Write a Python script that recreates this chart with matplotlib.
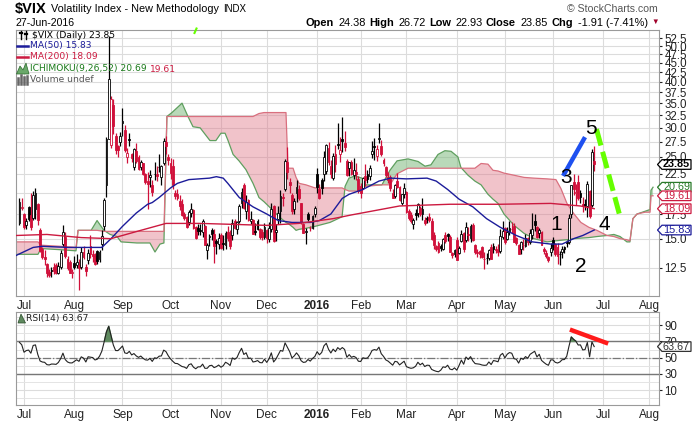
import numpy as np
import pandas as pd
import matplotlib
matplotlib.use("Agg")
import matplotlib.pyplot as plt
from matplotlib.patches import Polygon
from matplotlib.lines import Line2D

plt.rcParams['font.family'] = ['Liberation Sans', 'DejaVu Sans']

# ---------------- data ----------------
# NYSE holidays inside the shown range (chart x axis = trading days)
holidays = ['2015-07-03', '2015-09-07', '2015-11-26', '2015-12-25', '2016-01-01',
            '2016-01-18', '2016-02-15', '2016-03-25', '2016-05-30', '2016-07-04']
days = pd.bdate_range('2015-06-29', '2016-08-31')
days = days[~days.isin(pd.to_datetime(holidays))]

# daily $VIX candles, 29-Jun-2015 .. 27-Jun-2016
opens = [16.50, 18.20,
         17.50, 16.30, 18.30, 17.40, 17.10, 18.00, 18.60, 15.80, 14.10, 13.40, 12.80, 12.20, 12.30, 12.60, 12.70, 12.10, 12.60, 14.50, 15.20, 13.20, 13.00, 12.10,
         12.90, 12.70, 12.70, 12.60, 13.80, 12.60, 13.10, 14.30, 13.60, 13.50, 13.90, 13.20, 14.50, 16.20, 21.00, 28.00, 27.00, 34.50, 28.50, 26.80, 27.50,
         31.00, 29.50, 25.00, 28.00, 25.50, 23.50, 26.00, 25.00, 23.50, 24.00, 22.50, 21.50, 22.00, 21.00, 22.50, 22.50, 23.50, 22.10, 24.00, 27.40, 25.00,
         24.00, 23.60, 20.00, 19.80, 19.00, 18.60, 17.50, 17.20, 16.60, 17.60, 17.90, 16.10, 16.00, 15.80, 15.60, 16.20, 14.00, 15.20, 15.80, 15.40, 14.80, 14.50,
         15.30, 14.60, 14.40, 15.60, 15.30, 15.30, 16.80, 15.90, 16.80, 18.70, 21.00, 17.80, 19.10, 16.70, 16.90, 15.70, 16.80, 15.90, 15.60, 15.20,
         15.80, 15.00, 15.90, 18.40, 15.60, 17.00, 17.80, 19.50, 20.40, 24.20, 21.40, 19.70, 18.10, 19.90, 20.50, 18.70, 16.40, 15.60, 17.50, 16.00, 16.00, 17.50,
         22.50, 20.40, 21.70, 22.50, 22.90, 26.40, 23.60, 21.90, 25.40, 27.10, 25.50, 28.00, 27.30, 24.40, 23.30, 24.30, 22.40, 22.80, 21.80,
         20.90, 20.60, 22.20, 22.50, 22.20, 25.40, 26.80, 25.20, 27.90, 26.80, 24.60, 23.50, 22.00, 22.10, 19.90, 19.60, 21.50, 20.70, 18.70, 19.80,
         20.10, 17.80, 17.40, 16.40, 17.60, 17.60, 18.20, 17.50, 16.90, 17.10, 17.20, 16.80, 15.30, 14.30, 14.60, 14.30, 14.10, 15.30, 15.40, 15.20, 13.70, 13.60,
         14.90, 13.70, 14.80, 15.50, 14.90, 15.40, 15.10, 16.30, 14.40, 13.80, 13.90, 14.20, 13.20, 13.30, 13.30, 14.20, 14.30, 14.10, 14.00, 13.90, 15.20,
         16.00, 15.00, 15.60, 15.90, 16.20, 15.10, 14.40, 14.10, 14.40, 14.30, 15.10, 14.70, 15.30, 16.70, 16.10, 15.50, 15.60, 14.10, 13.70, 13.40, 13.80,
         14.90, 14.50, 14.20, 13.60, 13.80, 14.20, 14.70, 14.70, 17.50, 21.40, 19.90, 21.40, 19.90, 18.60, 18.60, 18.40, 20.20, 18.50, 24.38]
highs = [19.29, 19.40,
         17.60, 17.10, 18.40, 19.90, 20.20, 20.60, 18.80, 16.00, 14.20, 14.00, 12.90, 12.40, 12.60, 12.90, 12.90, 13.00, 14.00, 16.30, 15.60, 13.50, 13.10, 12.40,
         13.50, 13.60, 13.20, 14.20, 14.30, 12.80, 14.10, 15.30, 14.00, 13.70, 14.00, 14.00, 15.80, 19.30, 28.40, 53.29, 36.50, 36.00, 29.00, 27.00, 29.20,
         33.90, 30.50, 26.50, 29.00, 25.70, 26.50, 27.20, 25.30, 24.50, 24.10, 22.60, 22.70, 23.00, 21.60, 24.30, 23.60, 25.50, 23.80, 28.10, 28.50, 25.50,
         24.80, 24.70, 20.30, 20.40, 19.70, 19.20, 17.70, 17.30, 17.90, 18.80, 18.00, 16.20, 16.40, 16.40, 17.00, 16.30, 14.60, 15.40, 16.00, 15.90, 15.00, 15.50,
         15.50, 15.30, 15.70, 16.20, 15.80, 17.00, 17.00, 16.80, 18.60, 20.60, 21.30, 19.70, 19.20, 17.80, 17.00, 16.50, 17.00, 16.00, 15.90, 16.50,
         15.90, 16.60, 18.70, 18.50, 16.40, 18.40, 20.30, 20.00, 24.70, 26.60, 21.90, 20.00, 19.40, 21.70, 21.00, 18.80, 16.50, 16.00, 17.70, 16.20, 17.40, 18.40,
         23.40, 21.10, 21.90, 25.90, 27.10, 27.40, 24.50, 25.70, 26.90, 30.95, 28.40, 32.10, 29.40, 24.70, 24.30, 24.50, 24.80, 24.00, 22.20,
         21.30, 22.10, 23.90, 23.00, 23.80, 27.70, 28.20, 26.90, 30.90, 27.80, 24.90, 23.70, 22.80, 22.40, 20.50, 21.10, 22.60, 20.80, 19.80, 21.30,
         20.20, 18.00, 17.70, 17.10, 18.00, 18.80, 18.40, 19.40, 17.20, 17.30, 17.60, 17.10, 15.60, 14.40, 14.80, 14.50, 15.10, 15.60, 15.50, 15.30, 13.80, 14.10,
         15.20, 14.30, 15.80, 15.60, 16.60, 16.10, 16.40, 16.50, 14.50, 14.10, 14.00, 14.30, 13.80, 13.70, 14.10, 14.50, 14.60, 14.30, 14.50, 15.90, 16.80,
         16.10, 16.10, 16.70, 16.60, 16.50, 15.20, 14.50, 14.80, 15.00, 15.40, 15.20, 15.90, 17.60, 17.50, 16.20, 16.00, 15.70, 14.20, 14.00, 13.50, 14.60,
         15.20, 14.60, 14.60, 13.90, 14.30, 14.30, 14.90, 17.50, 21.00, 22.50, 21.10, 22.30, 20.30, 19.50, 19.20, 21.50, 20.30, 26.20, 26.72]
lows = [16.37, 17.90,
        15.90, 15.90, 16.80, 15.80, 16.90, 17.00, 16.30, 13.80, 13.20, 12.70, 11.80, 11.80, 11.80, 12.00, 12.00, 12.00, 12.40, 14.30, 13.30, 12.30, 12.10, 11.70,
        12.40, 12.50, 10.90, 12.40, 13.20, 11.90, 12.80, 13.30, 13.00, 12.70, 12.80, 13.00, 14.00, 15.80, 19.50, 28.00, 26.50, 28.80, 25.50, 25.00, 26.80,
        28.50, 25.80, 24.10, 26.80, 24.20, 23.00, 24.00, 23.00, 23.10, 22.30, 21.10, 18.00, 20.70, 19.60, 21.60, 21.50, 22.70, 21.00, 23.80, 25.50, 23.80,
        21.80, 20.50, 19.20, 19.10, 17.90, 17.30, 16.90, 16.00, 16.30, 17.20, 15.90, 15.00, 15.30, 15.30, 15.20, 14.40, 13.20, 14.30, 14.90, 12.90, 13.60, 14.10,
        14.10, 14.00, 14.10, 14.80, 14.10, 14.90, 15.90, 15.40, 16.50, 18.20, 18.10, 17.00, 16.70, 16.40, 15.40, 15.30, 15.80, 15.00, 14.90, 15.00,
        14.60, 14.70, 15.60, 14.70, 14.80, 16.40, 16.50, 18.40, 20.20, 21.80, 19.90, 17.50, 17.50, 18.90, 19.10, 16.40, 15.50, 14.50, 16.70, 15.70, 15.90, 17.20,
        20.00, 19.20, 19.80, 21.50, 22.50, 23.80, 21.90, 21.70, 22.80, 26.20, 24.20, 25.80, 25.90, 22.20, 22.20, 22.40, 21.80, 21.60, 20.00,
        19.30, 20.40, 20.80, 21.30, 21.60, 24.90, 24.60, 24.40, 27.20, 25.20, 23.70, 22.00, 21.20, 20.20, 19.30, 19.40, 20.60, 19.00, 18.50, 19.40,
        17.60, 16.90, 16.50, 15.90, 16.90, 17.20, 17.30, 16.90, 16.30, 16.50, 16.60, 14.90, 14.10, 13.90, 13.70, 13.90, 14.00, 14.60, 14.80, 13.80, 13.30, 13.40,
        13.10, 13.60, 14.70, 13.80, 14.70, 14.80, 14.70, 14.80, 13.60, 13.40, 13.30, 13.30, 12.40, 12.80, 13.10, 13.20, 13.70, 13.70, 13.50, 13.70, 15.00,
        14.50, 14.90, 15.30, 15.50, 14.70, 14.40, 13.60, 13.60, 14.00, 14.20, 14.40, 14.50, 15.00, 15.70, 15.10, 15.10, 14.40, 13.60, 13.30, 13.00, 13.50,
        14.00, 13.50, 12.80, 12.70, 13.30, 13.70, 14.20, 14.50, 17.10, 19.70, 18.50, 19.10, 18.70, 17.70, 17.90, 17.20, 17.10, 18.30, 22.93]
closes = [18.85, 18.23,
          16.09, 16.79, 17.01, 16.09, 19.66, 19.97, 16.83, 13.90, 13.37, 13.23, 12.11, 11.95, 12.25, 12.22, 12.12, 12.64, 13.74, 15.60, 13.44, 12.50, 12.13, 12.12,
          12.56, 13.00, 12.51, 13.77, 13.39, 12.23, 13.71, 13.61, 13.49, 12.83, 13.02, 13.79, 15.25, 19.14, 28.03, 40.74, 36.02, 30.32, 26.10, 26.05, 28.43,
          31.40, 26.09, 25.61, 27.80, 24.90, 26.23, 24.37, 23.20, 24.25, 22.54, 21.35, 21.14, 22.28, 20.14, 22.44, 22.13, 23.47, 23.62, 27.63, 26.83, 24.50,
          22.55, 20.94, 19.54, 19.40, 18.40, 17.42, 17.08, 16.17, 17.67, 18.03, 16.05, 15.05, 15.75, 15.75, 16.70, 14.45, 14.46, 15.29, 15.43, 14.33, 14.61, 15.07,
          14.15, 14.54, 15.51, 15.05, 14.33, 16.52, 16.06, 16.60, 18.37, 20.08, 18.16, 18.84, 16.85, 16.99, 15.47, 15.62, 15.93, 15.19, 15.12, 16.13,
          15.06, 16.08, 18.11, 14.81, 15.84, 17.60, 19.61, 19.34, 24.39, 22.73, 20.95, 17.86, 18.94, 20.70, 19.32, 16.60, 15.57, 15.74, 16.91, 16.08, 17.29, 18.21,
          20.70, 19.34, 20.59, 24.99, 27.01, 24.30, 22.47, 25.22, 23.95, 27.02, 26.05, 27.59, 26.69, 22.34, 24.15, 22.50, 23.11, 22.42, 20.20,
          19.98, 21.98, 21.65, 21.84, 23.38, 26.00, 26.54, 26.29, 28.14, 25.40, 24.11, 22.31, 21.64, 20.53, 19.38, 20.98, 20.72, 19.11, 19.81, 20.55,
          17.70, 17.09, 16.70, 16.86, 17.35, 18.67, 17.50, 18.05, 16.50, 16.92, 16.84, 14.99, 14.44, 14.02, 13.79, 14.17, 14.94, 14.74, 15.24, 13.82, 13.56, 13.95,
          13.10, 14.12, 15.42, 14.09, 16.16, 15.36, 16.26, 14.85, 13.84, 13.72, 13.62, 13.35, 13.24, 13.28, 13.95, 13.22, 14.08, 13.96, 13.77, 15.22, 15.70,
          14.68, 15.60, 16.05, 15.91, 14.72, 14.57, 13.63, 14.69, 14.41, 15.04, 14.68, 15.57, 15.95, 16.33, 15.20, 15.82, 14.42, 13.90, 13.43, 13.12, 14.19,
          14.20, 13.63, 13.47, 13.65, 14.05, 14.08, 14.64, 17.03, 20.97, 20.50, 20.14, 19.37, 19.41, 18.37, 18.48, 21.17, 17.25, 25.76, 23.85]
# closes before the chart, used only to seed RSI(14)
warmup_closes = [12.38, 12.73, 12.85, 12.11, 12.70, 12.13, 14.06, 13.27, 13.31, 13.84, 13.97, 14.24, 13.66, 14.71, 14.21,
                 15.29, 14.47, 12.85, 12.61, 13.78, 15.39, 14.81, 14.50, 13.19, 13.96, 12.74, 12.11, 13.26, 14.01, 14.02]

# moving averages (trading-day number, value)
ma50_day = [-1.5, 6, 10, 21, 36, 40, 45, 51, 56, 58, 61, 66, 69, 74, 83, 86, 89, 91, 96, 102, 108, 113, 119, 127, 131,
            136, 141, 144, 150, 157, 162, 169, 178, 182, 187, 192, 198, 204, 210, 217, 224, 232, 237, 242, 246, 251]
ma50 = [13.5, 14.2, 14.3, 14.2, 14.2, 15.0, 16.2, 17.6, 18.6, 18.8, 19.4, 20.6, 21.2, 21.7, 21.9, 22.1, 21.9, 21.2, 19.4, 18.3,
        17.5, 16.8, 16.6, 16.6, 16.8, 17.5, 19.3, 19.8, 20.4, 21.5, 21.9, 21.8, 21.9, 21.5, 20.4, 19.2, 18.3, 17.0, 16.1, 15.3,
        14.7, 14.5, 14.5, 15.0, 15.3, 15.83]
ma200_day = [-1.5, 12, 27, 40, 53, 64, 79, 108, 122, 137, 145, 166, 188, 210, 232, 245, 251]
ma200 = [15.3, 15.4, 15.1, 15.0, 15.8, 16.5, 16.5, 16.3, 16.5, 17.0, 17.4, 18.4, 18.6, 18.6, 18.7, 18.4, 18.09]

# Ichimoku cloud spans (already shifted 26 days ahead)
cloud_day = [-1.5, 8.1, 9.4, 17.7, 24.7, 25.6, 31.3, 33.9, 36.9, 39.6, 42.6, 44.4, 51.3, 57.0, 59.2, 61.4, 63.1, 64.4,
             66.6, 71.0, 73.6, 75.8, 78.9, 83.2, 85.8, 88.0, 89.8, 91.1, 93.3, 95.9, 98.9, 102.0, 103.3, 104.6, 106.8,
             110.7, 113.4, 116.4, 117.3, 119.5, 120.8, 122.1, 125.1, 129.1, 135.6, 140.9, 142.2, 143.9, 146.5, 149.6,
             150.9, 158.3, 161.8, 164.9, 169.7, 174.1, 177.1, 179.7, 182.8, 185.8, 188.5, 191.5, 192.8, 195.9, 198.9,
             201.6, 204.6, 206.8, 209.0, 211.6, 216.0, 220.4, 224.7, 230.4, 234.3, 236.5, 239.1, 242.2, 245.2, 248.7,
             252.2, 256.6, 259.6, 262.3, 265.3, 266.6, 267.9, 269.7, 273.2, 275.4, 275.8, 276.7]
span_a = [13.6, 13.6, 14.1, 14.0, 13.9, 15.8, 15.8, 16.8, 15.8, 15.4, 15.2, 14.7, 14.6, 14.6, 13.8, 14.5, 14.6, 32.2,
          33.0, 35.0, 32.2, 30.2, 30.0, 27.7, 27.7, 29.0, 29.0, 27.7, 25.4, 24.4, 23.1, 21.2, 20.3, 19.4, 18.9, 17.9,
          17.2, 16.6, 16.5, 16.1, 15.8, 15.9, 16.0, 16.2, 16.6, 17.2, 20.8, 21.9, 22.2, 21.9, 21.0, 21.0, 23.0, 24.4,
          24.7, 24.3, 23.6, 23.8, 25.4, 26.0, 25.9, 25.0, 23.4, 22.3, 21.5, 21.0, 19.8, 19.2, 18.7, 17.5, 16.3, 15.5,
          15.0, 14.7, 14.8, 14.85, 14.9, 15.0, 15.05, 15.1, 15.2, 15.3, 15.4, 15.2, 14.7, 14.7, 17.0, 17.5, 17.8, 18.0,
          20.3, 20.69]
span_b = [14.7, 14.7, 14.4, 14.3, 14.2, 15.8, 15.8, 15.8, 15.7, 15.7, 15.7, 15.7, 15.7, 15.7, 15.7, 15.7, 15.7, 32.2,
          32.2, 32.2, 32.2, 32.2, 32.2, 32.2, 32.2, 32.2, 32.2, 32.2, 32.2, 32.2, 32.2, 32.2, 32.5, 32.8, 33.0, 33.0,
          33.0, 33.0, 23.3, 23.3, 22.0, 21.2, 21.0, 20.6, 20.6, 20.6, 20.4, 20.2, 20.2, 20.2, 20.8, 21.0, 21.0, 22.5,
          23.3, 23.3, 23.3, 23.3, 23.3, 23.3, 23.3, 23.3, 23.3, 23.3, 23.3, 24.0, 23.9, 23.0, 22.9, 22.6, 22.3, 22.0,
          21.9, 21.8, 21.7, 20.5, 18.7, 17.5, 16.6, 16.1, 15.8, 15.3, 15.2, 15.0, 14.9, 14.8, 17.0, 17.5, 17.7, 17.7,
          19.6, 19.61]

# hand drawn marks on the original chart
wave_text = ['1', '2', '3', '4', '5']
wave_day = [234.5, 245.0, 238.8, 255.3, 249.6]
wave_val = [16.4, 12.6, 22.0, 16.35, 29.8]
blue_day, blue_val = [237.4, 247.0], [22.2, 28.3]
green_day, green_val = [252.0, 262.3], [29.76, 17.2]
rsi_mark_day, rsi_mark_val = [240.4, 257.1], [84.7, 67.4]

price_ticks = [12.5, 15.0, 17.5, 20.0, 22.5, 25.0, 27.5, 30.0, 32.5, 35.0, 37.5, 40.0, 42.5, 45.0, 47.5, 50.0, 52.5]
rsi_ticks = [10, 30, 50, 70, 90]

assert len(opens) == len(highs) == len(lows) == len(closes) == 252
assert len(cloud_day) == len(span_a) == len(span_b)

# ---------------- helpers ----------------
W, H = 700, 421
RED = '#d0103a'
NAVY = '#1c1c9a'
CRIMSON = '#cc1a40'
GREEN_TXT = '#1a7a1a'

def fx(x):
    return x / W

def fy(y):
    return 1 - y / H

def wilder_rsi(values, n=14):
    values = np.asarray(values, dtype=float)
    d = np.diff(values)
    up = np.where(d > 0, d, 0.0)
    dn = np.where(d < 0, -d, 0.0)
    out = np.full(len(values), np.nan)
    ag, al = up[:n].mean(), dn[:n].mean()
    out[n] = 100 - 100 / (1 + ag / al)
    for k in range(n, len(d)):
        ag = (ag * (n - 1) + up[k]) / n
        al = (al * (n - 1) + dn[k]) / n
        out[k + 1] = 100 - 100 / (1 + ag / al)
    return out

n = len(closes)
idx = np.arange(n)
o = np.array(opens); h = np.array(highs); l = np.array(lows); c = np.array(closes)
prev = np.concatenate([[warmup_closes[-1]], c[:-1]])
rsi = wilder_rsi(warmup_closes + closes)[len(warmup_closes):]

# month grid positions = first trading day of each month
month_pos, month_lab = [], []
for i, d in enumerate(days):
    if i == 0 or d.month != days[i - 1].month:
        if d.day <= 5 and d >= pd.Timestamp('2015-07-01'):
            month_pos.append(i)
            month_lab.append('2016' if (d.month == 1) else d.strftime('%b'))

fig = plt.figure(figsize=(W / 100, H / 100), dpi=100)
ax = fig.add_axes([fx(16), fy(296), (659 - 16) / W, (296 - 30) / H])
ax2 = fig.add_axes([fx(16), fy(405), (659 - 16) / W, (405 - 312) / H])
renderer = fig.canvas.get_renderer()

for a in (ax, ax2):
    a.set_xlim(-1.5, 279.3)
    a.set_xticks(month_pos)
    a.set_xticklabels(month_lab)
    for t in a.get_xticklabels():
        if t.get_text() == '2016':
            t.set_fontweight('bold')
    a.tick_params(axis='x', length=0, pad=3, labelsize=8.5, colors='#222222')
    a.yaxis.tick_right()
    a.tick_params(axis='y', length=2, pad=2, labelsize=8.3, colors='#222222')
    a.grid(True, color='#dcdcdc', lw=0.8)
    a.set_axisbelow(True)
    for s in a.spines.values():
        s.set_color('#9a9a9a')
        s.set_linewidth(0.8)

# ---------------- price panel ----------------
ax.set_yscale('log')
ax.set_ylim(10.48, 55.3)
ax.yaxis.set_minor_locator(matplotlib.ticker.NullLocator())
ax.set_yticks(price_ticks)
# 20.0 sits under the value tags, as on the original
ax.set_yticklabels(['' if v == 20.0 else f'{v:.1f}' for v in price_ticks])

ca, cb = np.array(span_a), np.array(span_b)
ax.fill_between(cloud_day, ca, cb, where=ca >= cb, interpolate=True, color='#80bb80', alpha=0.55, lw=0, zorder=1)
ax.fill_between(cloud_day, ca, cb, where=ca < cb, interpolate=True, color='#e07a8a', alpha=0.45, lw=0, zorder=1)
ax.plot(cloud_day, span_a, color='#5f9f5f', lw=0.9, zorder=1.5)
ax.plot(cloud_day, span_b, color='#d9707f', lw=0.9, zorder=1.5)

col = np.where(c >= prev, 'black', RED)
face = np.where(c > o, 'white', col)
ax.vlines(idx, l, h, colors=col, lw=0.9, zorder=3)
body = np.maximum(np.abs(c - o), 0.04)
ax.bar(idx, body, bottom=np.minimum(o, c), width=0.8, color=face, edgecolor=col, lw=0.6, zorder=4)

ax.plot(ma50_day, ma50, color=NAVY, lw=1.0, zorder=5)
ax.plot(ma200_day, ma200, color=CRIMSON, lw=1.0, zorder=5)

ax.plot(blue_day, blue_val, color='#1e50f0', lw=3.2, solid_capstyle='butt', zorder=6)
ax.plot(green_day, green_val, color='#66ff00', lw=3.6, linestyle=(0, (3.4, 1.3)), zorder=6)
for s, xd, yv in zip(wave_text, wave_day, wave_val):
    ax.text(xd, yv, s, fontsize=15, ha='center', va='center', color='black', zorder=7)

# ---------------- RSI panel ----------------
ax2.set_ylim(-8.5, 106.4)
ax2.set_yticks(rsi_ticks)
ax2.set_yticks([0, 20, 40, 60, 80, 100], minor=True)
ax2.tick_params(axis='y', which='minor', length=0)
ax2.grid(True, which='minor', axis='y', color='#e4e4e4', lw=0.7)
ax2.axhline(70, color='#777777', lw=1.0, zorder=2)
ax2.axhline(30, color='#777777', lw=1.0, zorder=2)
ax2.axhline(50, color='#777777', lw=0.9, ls='-.', zorder=2)
ax2.fill_between(idx, rsi, 70, where=rsi > 70, interpolate=True, color='#5f8a5f', zorder=2.5)
ax2.plot(idx, rsi, color='#222222', lw=0.8, zorder=3)
ax2.plot(rsi_mark_day, rsi_mark_val, color='#ff1a1a', lw=3.2, solid_capstyle='butt', zorder=6)

# ---------------- value tags on the right ----------------
def tag(a, val, text, color, bold=False):
    y = a.transData.transform((0, val))[1]
    x = a.transAxes.transform((1, 0))[0]
    hh = 4.8
    pts = [(x - 1.5, y), (x + 3, y - hh), (x + 32, y - hh), (x + 32, y + hh), (x + 3, y + hh)]
    pts = fig.transFigure.inverted().transform(pts)
    fig.add_artist(Polygon(pts, closed=True, facecolor='white', edgecolor=color, lw=0.9, zorder=5))
    xt, yt = fig.transFigure.inverted().transform((x + 17.5, y))
    fig.text(xt, yt, text, ha='center', va='center', fontsize=7.8, color=color,
             fontweight='bold' if bold else 'normal', zorder=6)

tag(ax, 23.85, '23.85', 'black', bold=True)
tag(ax, 20.69, '20.69', '#2a7a2a')
tag(ax, 19.61, '19.61', CRIMSON)
tag(ax, 18.09, '18.09', CRIMSON)
tag(ax, 15.83, '15.83', NAVY)
tag(ax2, 63.67, '63.67', '#333333')

# ---------------- header ----------------
def T(x, y, s, **kw):
    kw.setdefault('va', 'center')
    kw.setdefault('ha', 'left')
    return fig.text(fx(x), fy(y), s, **kw)

def width_px(t):
    return t.get_window_extent(renderer).width

def chain(x, y, parts, gap):
    # lay text pieces left to right, each right after the previous one
    for s, kw in parts:
        t = T(x, y, s, **kw)
        x += width_px(t) + gap
    return x

chain(15, 9, [('$VIX', dict(fontsize=10.5, fontweight='bold')),
              ('Volatility Index - New Methodology', dict(fontsize=7.8)),
              ('INDX', dict(fontsize=7))], 4)
T(15, 22.5, '27-Jun-2016', fontsize=7.6)
T(567, 8.5, '© StockCharts.com', fontsize=7.6, color='#555555')

hdr = [('Open', True), ('24.38', False), ('High', True), ('26.72', False), ('Low', True), ('22.93', False),
       ('Close', True), ('23.85', False), ('Chg', True), ('-1.91 (-7.41%)', False)]
xr = 648
for s, b in reversed(hdr):
    t = T(xr, 22.5, s, fontsize=7.9, fontweight='bold' if b else 'normal', ha='right')
    xr -= width_px(t) + (3 if b else 5)
T(651, 22.5, '▼', fontsize=5.5, color='#a0002a')

# ---------------- legends ----------------
def L(x, y, s, color, **kw):
    return fig.text(fx(x), fy(y), s, fontsize=6.6, color=color, va='center', ha='left',
                    family='DejaVu Sans', **kw)

def seg(x0, y0, x1, y1, color, lw):
    fig.add_artist(Line2D([fx(x0), fx(x1)], [fy(y0), fy(y1)], color=color, lw=lw))

# candle icon
seg(21, 31, 21, 39, 'black', 1.0); seg(20, 33, 22, 33, 'black', 1.6)
seg(26, 31, 26, 39, 'black', 1.0); seg(25, 34, 27, 34, 'black', 1.6)
L(32, 35, '$VIX (Daily) 23.85', 'black')
seg(17, 45.5, 28, 45.5, NAVY, 1.8)
L(30, 45.5, 'MA(50) 15.83', NAVY)
seg(17, 57, 28, 57, CRIMSON, 1.8)
L(30, 57, 'MA(200) 18.09', CRIMSON)
fig.add_artist(Polygon([(fx(16.5), fy(74)), (fx(20), fy(66)), (fx(23), fy(70)), (fx(26), fy(63)),
                        (fx(29), fy(74))], closed=True, facecolor='#6aa86a', edgecolor='#2a6a2a', lw=0.5))
t_ich = L(30, 69, 'ICHIMOKU(9,26,52) 20.69', GREEN_TXT)
L(30 + width_px(t_ich) + 3, 69, '19.61', CRIMSON)
for bx, bh in [(18, 6), (21, 9), (24, 7), (27, 8)]:
    seg(bx, 84, bx, 84 - bh, '#666666', 1.8)
L(30, 79.5, 'Volume undef', '#555555')

fig.add_artist(Polygon([(fx(18), fy(323)), (fx(21), fy(314)), (fx(23.5), fy(319)), (fx(25.5), fy(323))],
                       closed=True, facecolor='#5f8a5f', edgecolor='#2a4a2a', lw=0.5))
L(26, 319, 'RSI(14) 63.67', '#222222')

# small green stroke above the panel
seg(194.5, 33, 196.5, 28.5, '#66ff00', 1.5)

fig.savefig('out.png', dpi=100)
